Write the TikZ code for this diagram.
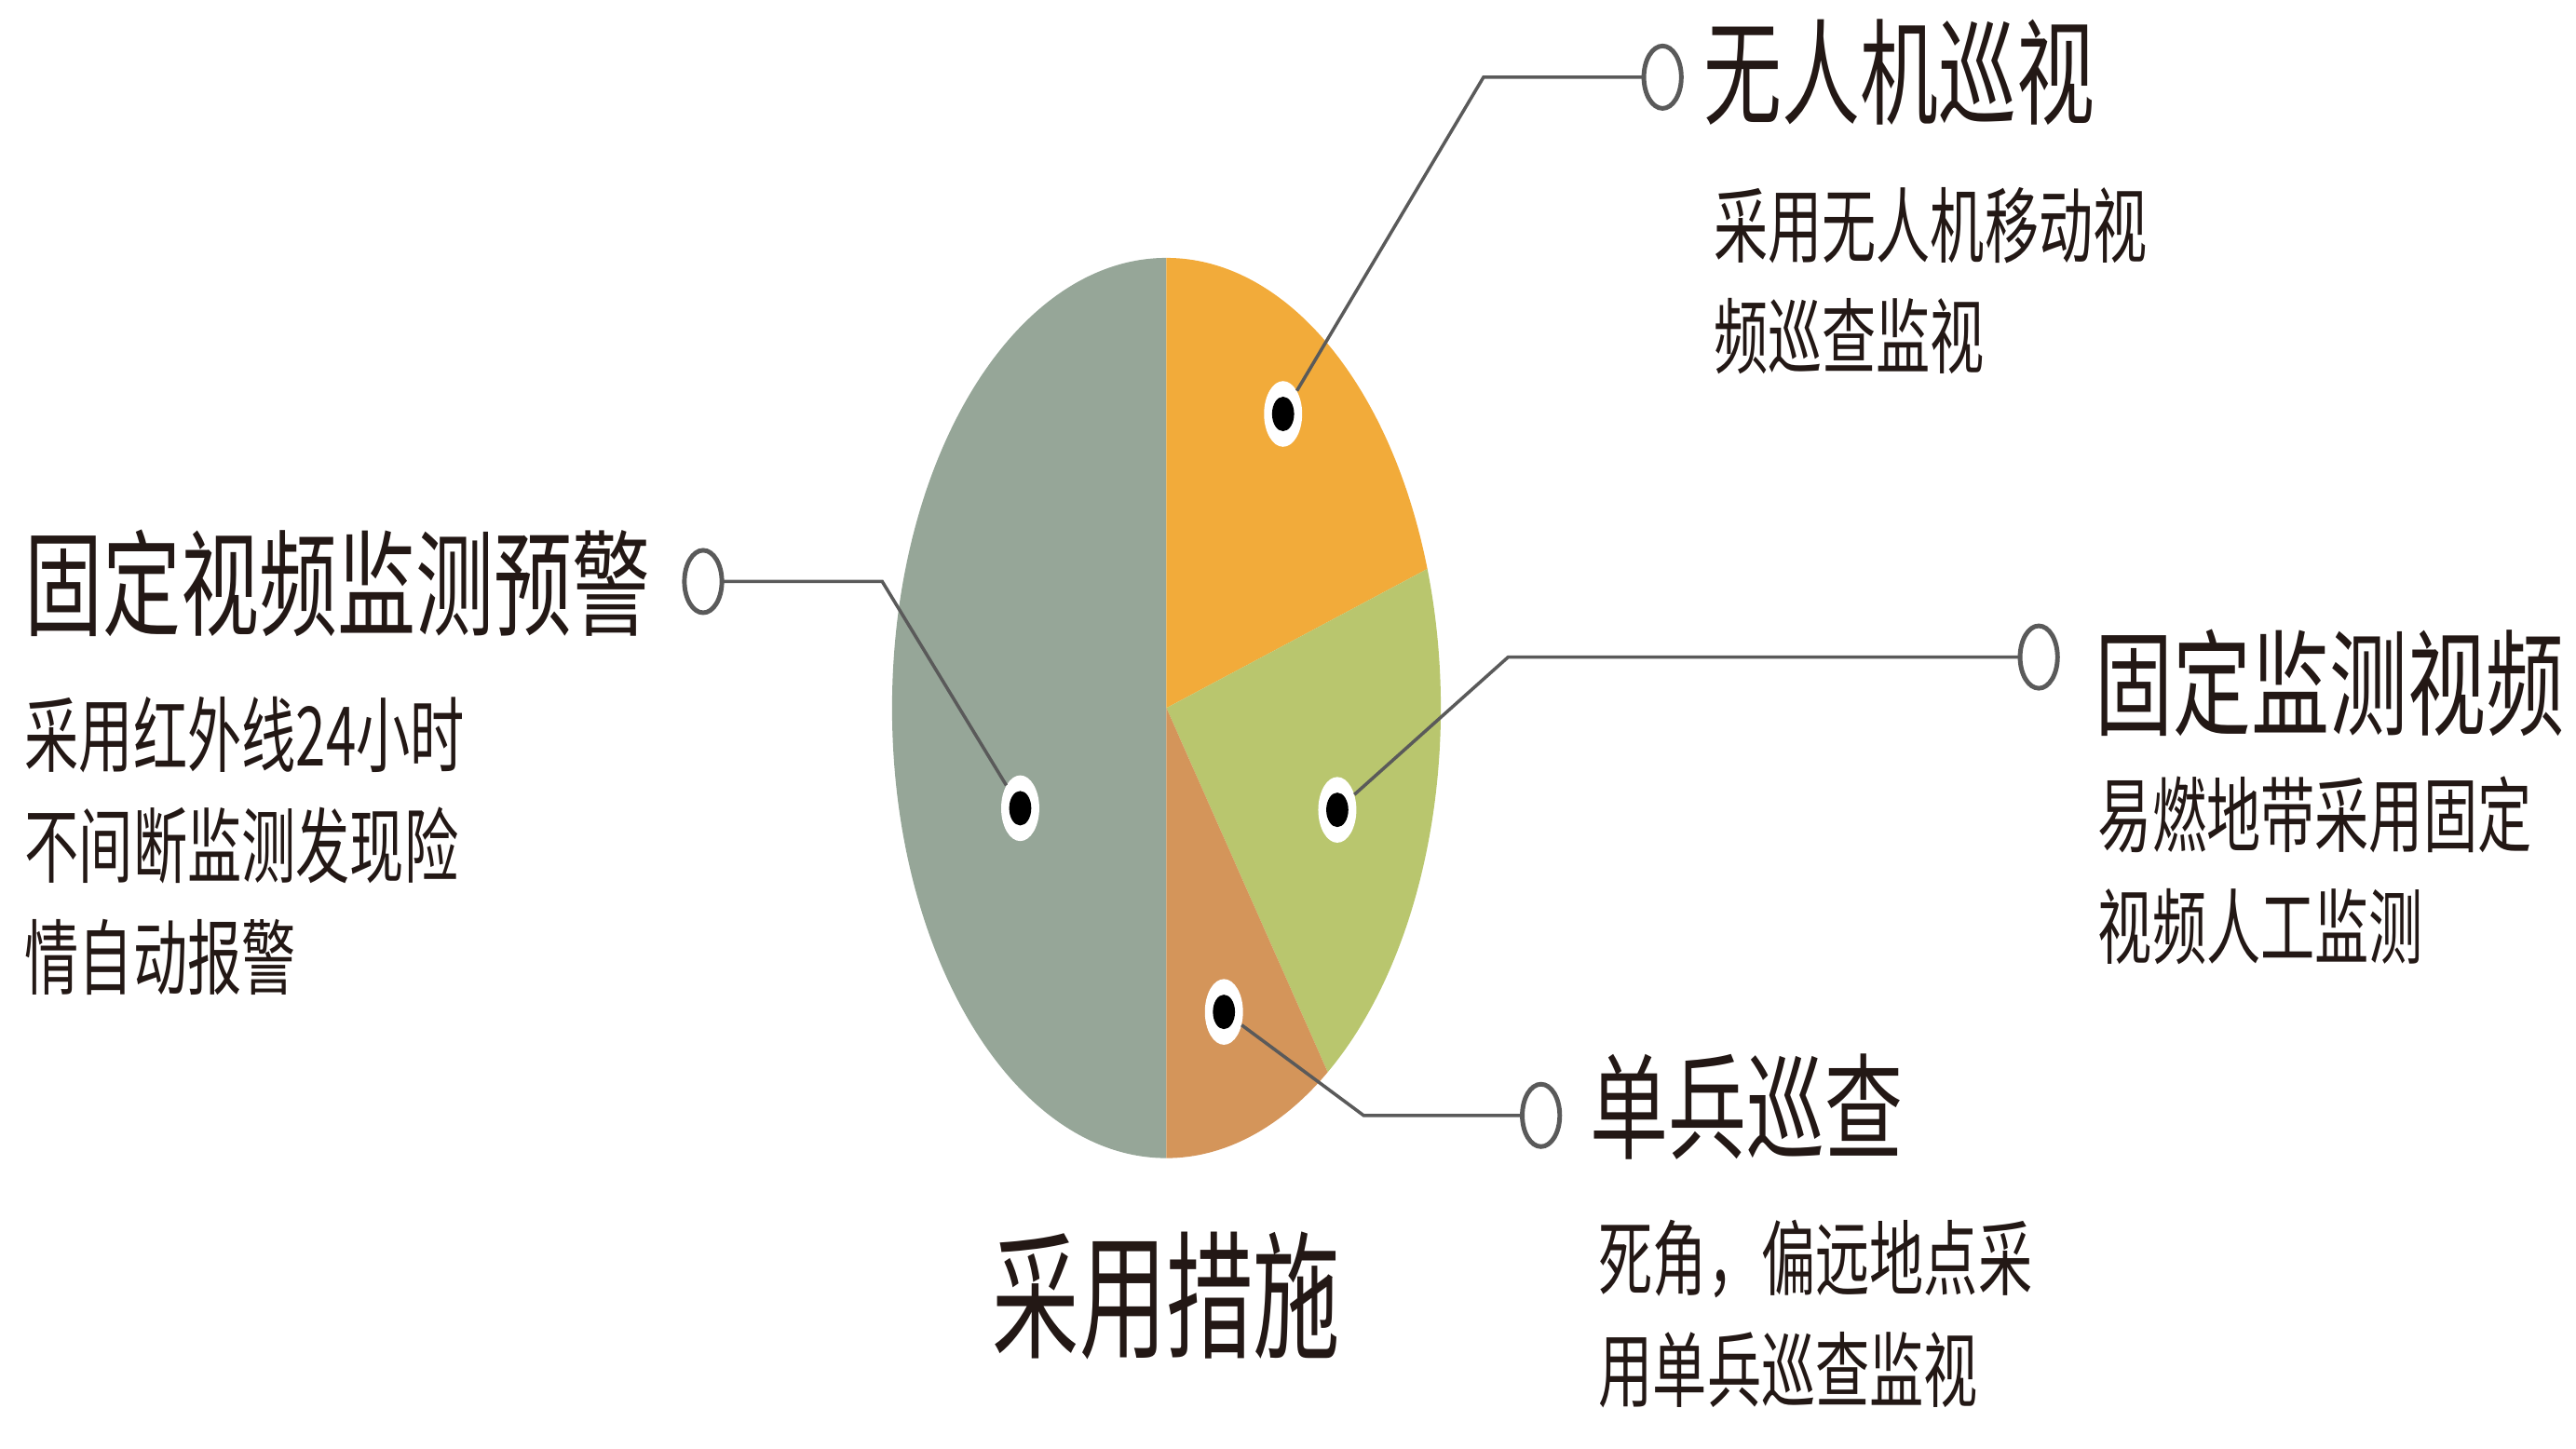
\documentclass[tikz,border=0pt]{standalone}
\usepackage{fontspec}
\newfontfamily\cjk{Noto Sans CJK SC}
\definecolor{sagegray}{HTML}{96A698}
\definecolor{droneorange}{HTML}{F2AB3A}
\definecolor{fixedgreen}{HTML}{B9C66E}
\definecolor{patrolbrown}{HTML}{D4955A}
\definecolor{inkdark}{HTML}{231815}
\definecolor{wiregray}{HTML}{5A5A5A}
\begin{document}
\begin{tikzpicture}
[x=1pt,y=1pt,
 titledecorate/.style={anchor=west,inner sep=0pt,xscale=0.68,text=inkdark,
   font=\cjk\fontsize{70}{70}\selectfont},%
 bodydecorate/.style={anchor=west,inner sep=0pt,xscale=0.66,align=left,text=inkdark,
   font=\cjk\fontsize{50}{68}\selectfont},%
 ringdecorate/.style={shape=circle,inner sep=0pt,minimum size=38pt,xscale=0.6,
   draw=wiregray,line width=2.8pt,fill=white},%
 dotdecorate/.style={shape=circle,inner sep=0pt,minimum size=40pt,xscale=0.58,fill=white},%
 coredecorate/.style={shape=circle,inner sep=0pt,minimum size=21pt,xscale=0.64,fill=black},%
 linedecorate/.style={-,line width=2pt,draw=wiregray}]
\useasboundingbox (0,0) rectangle (1568,882);
%% pie
\coordinate (Centre) at (710,451);
\foreach \start/\stop/\colour in {90/270/sagegray, 18/90/droneorange,
  -54/18/fixedgreen, -90/-54/patrolbrown}
{
  \fill[\colour] (Centre) -- +(\start:167pt and 274pt)
    arc[start angle=\start,end angle=\stop,x radius=167pt,y radius=274pt] -- cycle;
}
%% dots on the slices
\foreach \nodename/\x/\y in {Drone/781/630, Warning/621/390, Fixed/814/389, Soldier/745/266}
{
  \node (\nodename) at (\x,\y) [dotdecorate] {};
  \node at (\nodename.center) [coredecorate] {};
}
%% rings and bends
\foreach \nodename/\x/\y/\bx/\by in {Drone/1012/835/903/835, Warning/428/528/537/528,
  Fixed/1241/482/918/482, Soldier/938/203/830/203}
{
  \node (\nodename Ring) at (\x,\y) [ringdecorate] {};
  \coordinate (\nodename Bend) at (\bx,\by);
}
%% connectors
\foreach \nodename in {Drone, Warning, Fixed, Soldier}
{
  \draw[linedecorate] (\nodename) -- (\nodename Bend) -- (\nodename Ring);
}
%% titles
\node (DroneTitle) at (1037,838) [titledecorate] {无人机巡视};
\node (WarningTitle) at (15,527) [titledecorate] {固定视频监测预警};
\node (FixedTitle) at (1275,466) [titledecorate] {固定监测视频};
\node (SoldierTitle) at (968,208) [titledecorate] {单兵巡查};
%% texts
\node (DroneText) at (1043,711) [bodydecorate] {采用无人机移动视\\频巡查监视};
\node (WarningText) at (15,367) [bodydecorate] {采用红外线24小时\\不间断监测发现险\\情自动报警};
\node (FixedText) at (1277,352) [bodydecorate] {易燃地带采用固定\\视频人工监测};
\node (SoldierText) at (973,82) [bodydecorate] {死角，偏远地点采\\用单兵巡查监视};
\node (Measures) at (710,93) [inner sep=0pt,xscale=0.63,text=inkdark,
  font=\cjk\fontsize{84}{84}\selectfont] {采用措施};
\end{tikzpicture}
\end{document}
